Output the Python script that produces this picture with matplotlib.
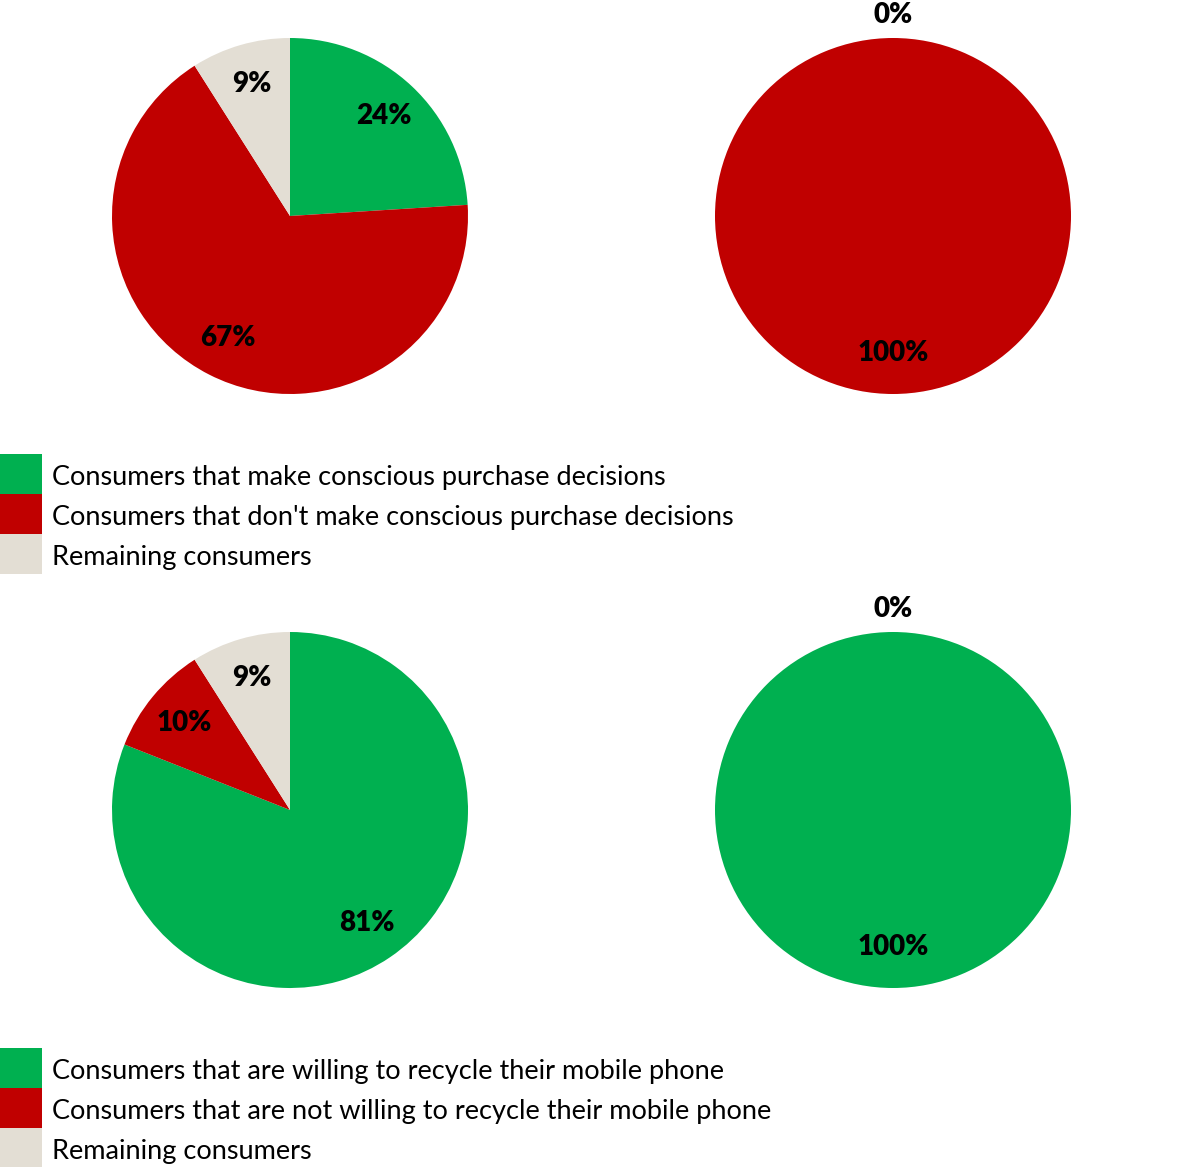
import matplotlib.pyplot as plt
import numpy as np
from matplotlib.patches import Rectangle

plt.rcParams['font.family'] = ['Lato', 'DejaVu Sans']

# Colours used by all four pies
GREEN = '#00B050'
RED = '#C00000'
BEIGE = '#E3DED4'
COLORS = [GREEN, RED, BEIGE]

# Purchase decisions (top row)
purchase_left = [24, 67, 9]
purchase_right = [0, 100]
purchase_labels = ["Consumers that make conscious purchase decisions",
                   "Consumers that don't make conscious purchase decisions",
                   "Remaining consumers"]

# Recycling (bottom row)
recycle_left = [81, 10, 9]
recycle_right = [100, 0]
recycle_labels = ["Consumers that are willing to recycle their mobile phone",
                  "Consumers that are not willing to recycle their mobile phone",
                  "Remaining consumers"]

W, H = 1181, 1167
fig = plt.figure(figsize=(W / 100, H / 100), dpi=100)


def pie_axes(cx, cy, r=178):
    # axes box in pixel terms, converted to figure fractions
    ax = fig.add_axes([(cx - r) / W, 1 - (cy + r) / H, 2 * r / W, 2 * r / H])
    ax.axis('off')
    return ax


def draw_pie(ax, values):
    wedges, _ = ax.pie(values, colors=COLORS[:len(values)], startangle=90,
                       counterclock=False, radius=1,
                       wedgeprops=dict(linewidth=0))
    ax.set_xlim(-1, 1)
    ax.set_ylim(-1, 1)
    ax.set_aspect('equal')
    for w, v in zip(wedges, values):
        mid = np.deg2rad((w.theta1 + w.theta2) / 2)
        dist = 1.13 if v == 0 else 0.77
        ax.text(dist * np.cos(mid), dist * np.sin(mid), f'{v}%',
                ha='center', va='center', fontsize=20, fontweight='heavy',
                color='black', clip_on=False)


draw_pie(pie_axes(290, 216), purchase_left)
draw_pie(pie_axes(893, 216), purchase_right)
draw_pie(pie_axes(290, 810), recycle_left)
draw_pie(pie_axes(893, 810), recycle_right)


def legend(labels, top_px, row=40):
    # colour key: one square swatch per row, label to its right
    ax = fig.add_axes([0, 1 - (top_px + row * len(labels)) / H, 1,
                       row * len(labels) / H])
    ax.set_xlim(0, W)
    ax.set_ylim(row * len(labels), 0)
    ax.axis('off')
    for i, (lab, c) in enumerate(zip(labels, COLORS)):
        ax.add_patch(Rectangle((0, i * row), 42, row, facecolor=c,
                               edgecolor='none'))
        ax.text(52, i * row + row / 2 + 4, lab, ha='left', va='center',
                fontsize=19.5, color='black', clip_on=False)


legend(purchase_labels, 454)
legend(recycle_labels, 1048)

fig.savefig('out.png', dpi=100, facecolor='white')
